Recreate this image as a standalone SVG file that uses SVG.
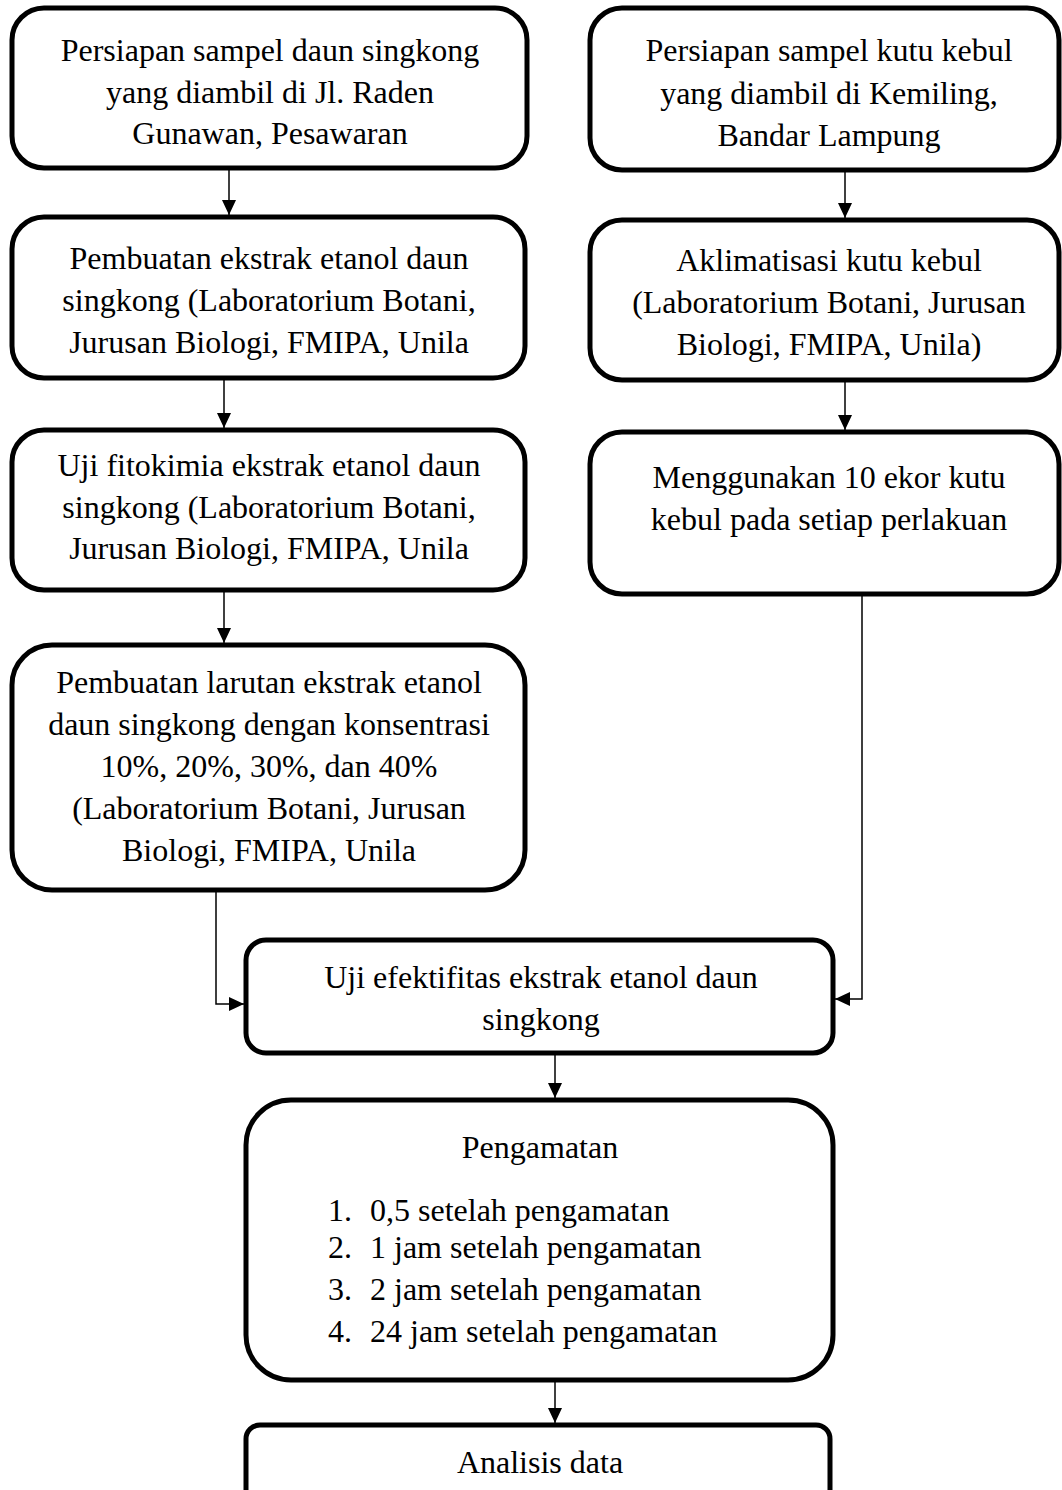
<svg xmlns="http://www.w3.org/2000/svg" width="1062" height="1490" viewBox="0 0 1062 1490">
<style>
.box{fill:#fff;stroke:#000;stroke-width:5}
.t{font-family:"Liberation Serif","Times New Roman",serif;font-size:32px;fill:#000;text-anchor:middle}
.l{font-family:"Liberation Serif","Times New Roman",serif;font-size:32px;fill:#000}
.c{fill:none;stroke:#000;stroke-width:1.5}
</style>
<defs>
<marker id="ah" markerWidth="15" markerHeight="14" refX="15" refY="7" orient="auto" markerUnits="userSpaceOnUse" viewBox="0 0 15 14">
<path d="M0,0 L15,7 L0,14 Z" fill="#000"/>
</marker>
</defs>
<rect width="1062" height="1490" fill="#fff"/>
<g id="connectors">
<path class="c" d="M229,170 V215" marker-end="url(#ah)"/>
<path class="c" d="M224,380 V428" marker-end="url(#ah)"/>
<path class="c" d="M224,592 V643" marker-end="url(#ah)"/>
<path class="c" d="M845,172 V218" marker-end="url(#ah)"/>
<path class="c" d="M845,382 V430" marker-end="url(#ah)"/>
<path class="c" d="M216,892 V1004 H244" marker-end="url(#ah)"/>
<path class="c" d="M862,596 V999 H835" marker-end="url(#ah)"/>
<path class="c" d="M555,1055 V1098" marker-end="url(#ah)"/>
<path class="c" d="M555,1382 V1423" marker-end="url(#ah)"/>
</g>
<g id="n1">
<rect class="box" x="12" y="8" width="515" height="160" rx="32"/>
<text class="t" x="270" y="61">Persiapan sampel daun singkong</text>
<text class="t" x="270" y="103">yang diambil di Jl. Raden</text>
<text class="t" x="270" y="144">Gunawan, Pesawaran</text>
</g>
<g id="n2">
<rect class="box" x="12" y="217" width="513" height="161" rx="32"/>
<text class="t" x="269" y="269">Pembuatan ekstrak etanol daun</text>
<text class="t" x="269" y="311">singkong (Laboratorium Botani,</text>
<text class="t" x="269" y="353">Jurusan Biologi, FMIPA, Unila</text>
</g>
<g id="n3">
<rect class="box" x="12" y="430" width="513" height="160" rx="32"/>
<text class="t" x="269" y="476">Uji fitokimia ekstrak etanol daun</text>
<text class="t" x="269" y="518">singkong (Laboratorium Botani,</text>
<text class="t" x="269" y="559">Jurusan Biologi, FMIPA, Unila</text>
</g>
<g id="n4">
<rect class="box" x="12" y="645" width="513" height="245" rx="40"/>
<text class="t" x="269" y="693">Pembuatan larutan ekstrak etanol</text>
<text class="t" x="269" y="735">daun singkong dengan konsentrasi</text>
<text class="t" x="269" y="777">10%, 20%, 30%, dan 40%</text>
<text class="t" x="269" y="819">(Laboratorium Botani, Jurusan</text>
<text class="t" x="269" y="861">Biologi, FMIPA, Unila</text>
</g>
<g id="r1">
<rect class="box" x="590" y="8" width="469" height="162" rx="32"/>
<text class="t" x="829" y="61">Persiapan sampel kutu kebul</text>
<text class="t" x="829" y="104">yang diambil di Kemiling,</text>
<text class="t" x="829" y="146">Bandar Lampung</text>
</g>
<g id="r2">
<rect class="box" x="590" y="220" width="469" height="160" rx="32"/>
<text class="t" x="829" y="271">Aklimatisasi kutu kebul</text>
<text class="t" x="829" y="313">(Laboratorium Botani, Jurusan</text>
<text class="t" x="829" y="355">Biologi, FMIPA, Unila)</text>
</g>
<g id="r3">
<rect class="box" x="590" y="432" width="469" height="162" rx="32"/>
<text class="t" x="829" y="488">Menggunakan 10 ekor kutu</text>
<text class="t" x="829" y="530">kebul pada setiap perlakuan</text>
</g>
<g id="n5">
<rect class="box" x="246" y="940" width="587" height="113" rx="20"/>
<text class="t" x="541" y="988">Uji efektifitas ekstrak etanol daun</text>
<text class="t" x="541" y="1030">singkong</text>
</g>
<g id="n6">
<rect class="box" x="246" y="1100" width="587" height="280" rx="45"/>
<text class="t" x="540" y="1158">Pengamatan</text>
<text class="l" x="328" y="1221">1.</text><text class="l" x="370" y="1221">0,5 setelah pengamatan</text>
<text class="l" x="328" y="1258">2.</text><text class="l" x="370" y="1258">1 jam setelah pengamatan</text>
<text class="l" x="328" y="1300">3.</text><text class="l" x="370" y="1300">2 jam setelah pengamatan</text>
<text class="l" x="328" y="1342">4.</text><text class="l" x="370" y="1342">24 jam setelah pengamatan</text>
</g>
<g id="n7">
<rect class="box" x="246" y="1425" width="584" height="100" rx="14"/>
<text class="t" x="540" y="1473">Analisis data</text>
</g>
</svg>
